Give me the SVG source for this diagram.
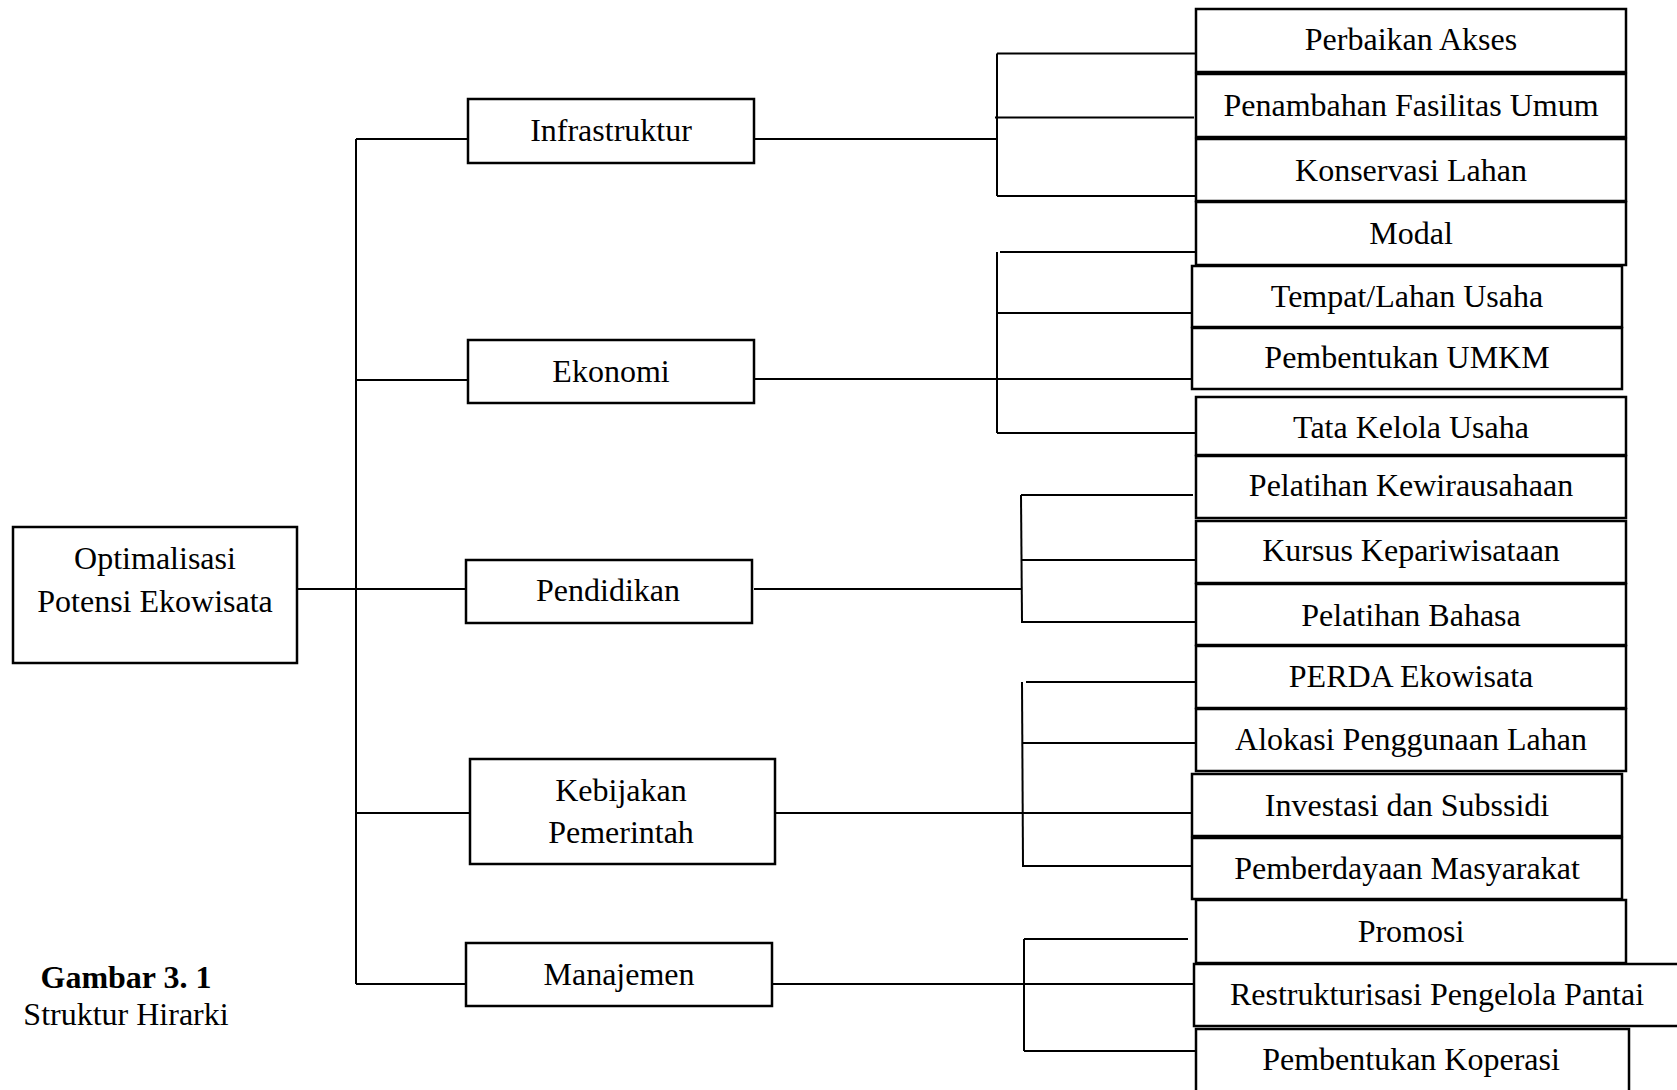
<svg xmlns="http://www.w3.org/2000/svg" width="1677" height="1090" viewBox="0 0 1677 1090">
<style>
.n rect{fill:#fff;stroke:#000;stroke-width:2.5}
text{font-family:"Liberation Serif","Times New Roman",serif;font-size:32px;fill:#000;text-anchor:middle;dominant-baseline:central}
.c line{stroke:#000;stroke-width:2}
.b{font-weight:bold}
</style>
<rect x="0" y="0" width="1677" height="1090" fill="#fff"/>
<g class="c" id="connectors">
<line x1="297" y1="589" x2="468" y2="589"/>
<line x1="356" y1="139" x2="356" y2="984"/>
<line x1="356" y1="139" x2="468" y2="139"/>
<line x1="356" y1="380" x2="470" y2="380"/>
<line x1="356" y1="813" x2="470" y2="813"/>
<line x1="356" y1="984" x2="468" y2="984"/>
<line x1="754" y1="139" x2="997" y2="139"/>
<line x1="997" y1="53.5" x2="997" y2="196"/>
<line x1="997" y1="53.5" x2="1196" y2="53.5"/>
<line x1="995" y1="117.6" x2="1194" y2="117.6"/>
<line x1="997" y1="196" x2="1196" y2="196"/>
<line x1="754" y1="379" x2="1193" y2="379"/>
<line x1="997" y1="252" x2="997" y2="433"/>
<line x1="1000" y1="252" x2="1197" y2="252"/>
<line x1="997" y1="313" x2="1192" y2="313"/>
<line x1="997" y1="433" x2="1196" y2="433"/>
<line x1="754" y1="589" x2="1021" y2="589"/>
<line x1="1021" y1="495" x2="1022" y2="622"/>
<line x1="1021" y1="495" x2="1193" y2="495"/>
<line x1="1021" y1="560" x2="1196" y2="560"/>
<line x1="1021" y1="622" x2="1196" y2="622"/>
<line x1="775" y1="813" x2="1193" y2="813"/>
<line x1="1022" y1="682" x2="1023" y2="866"/>
<line x1="1026" y1="682" x2="1200" y2="682"/>
<line x1="1022" y1="743" x2="1196" y2="743"/>
<line x1="1022" y1="866" x2="1196" y2="866"/>
<line x1="772" y1="984" x2="1197" y2="984"/>
<line x1="1024" y1="939" x2="1024" y2="1051"/>
<line x1="1024" y1="939" x2="1188" y2="939"/>
<line x1="1024" y1="1051" x2="1198" y2="1051"/>
</g>
<g class="n" id="root"><rect x="13" y="527" width="284" height="136"/><text x="155" y="558">Optimalisasi</text><text x="155" y="601">Potensi Ekowisata</text></g>
<g class="n" id="infrastruktur"><rect x="468" y="99" width="286" height="64"/><text x="611" y="130">Infrastruktur</text></g>
<g class="n" id="ekonomi"><rect x="468" y="340" width="286" height="63"/><text x="611" y="371">Ekonomi</text></g>
<g class="n" id="pendidikan"><rect x="466" y="560" width="286" height="63"/><text x="608" y="590">Pendidikan</text></g>
<g class="n" id="kebijakan"><rect x="470" y="759" width="305" height="105"/><text x="621" y="790">Kebijakan</text><text x="621" y="832">Pemerintah</text></g>
<g class="n" id="manajemen"><rect x="466" y="943" width="306" height="63"/><text x="619" y="974">Manajemen</text></g>
<g class="n" id="perbaikan"><rect x="1196" y="9" width="430" height="63"/><text x="1411" y="39">Perbaikan Akses</text></g>
<g class="n" id="penambahan"><rect x="1196" y="74" width="430" height="63"/><text x="1411" y="105">Penambahan Fasilitas Umum</text></g>
<g class="n" id="konservasi"><rect x="1196" y="139" width="430" height="62"/><text x="1411" y="170">Konservasi Lahan</text></g>
<g class="n" id="modal"><rect x="1196" y="202" width="430" height="63"/><text x="1411" y="233">Modal</text></g>
<g class="n" id="tempat"><rect x="1192" y="266" width="430" height="61"/><text x="1407" y="296">Tempat/Lahan Usaha</text></g>
<g class="n" id="umkm"><rect x="1192" y="328" width="430" height="61"/><text x="1407" y="357">Pembentukan UMKM</text></g>
<g class="n" id="tatakelola"><rect x="1196" y="397" width="430" height="58"/><text x="1411" y="427">Tata Kelola Usaha</text></g>
<g class="n" id="kewirausahaan"><rect x="1196" y="456" width="430" height="62"/><text x="1411" y="485">Pelatihan Kewirausahaan</text></g>
<g class="n" id="kursus"><rect x="1196" y="521" width="430" height="62"/><text x="1411" y="550">Kursus Kepariwisataan</text></g>
<g class="n" id="bahasa"><rect x="1196" y="584" width="430" height="61"/><text x="1411" y="615">Pelatihan Bahasa</text></g>
<g class="n" id="perda"><rect x="1196" y="646" width="430" height="62"/><text x="1411" y="676">PERDA Ekowisata</text></g>
<g class="n" id="alokasi"><rect x="1196" y="709" width="430" height="62"/><text x="1411" y="739">Alokasi Penggunaan Lahan</text></g>
<g class="n" id="investasi"><rect x="1192" y="774" width="430" height="62"/><text x="1407" y="805">Investasi dan Subssidi</text></g>
<g class="n" id="pemberdayaan"><rect x="1192" y="838" width="430" height="61"/><text x="1407" y="868">Pemberdayaan Masyarakat</text></g>
<g class="n" id="promosi"><rect x="1196" y="900" width="430" height="63"/><text x="1411" y="931">Promosi</text></g>
<g class="n" id="restrukturisasi"><rect x="1194" y="964" width="500" height="62"/><text x="1437" y="994">Restrukturisasi Pengelola Pantai</text></g>
<g class="n" id="koperasi"><rect x="1196" y="1029" width="433" height="70"/><text x="1411" y="1059">Pembentukan Koperasi</text></g>
<g id="caption"><text class="b" x="126" y="977">Gambar 3. 1</text><text x="126" y="1014">Struktur Hirarki</text></g>
</svg>
